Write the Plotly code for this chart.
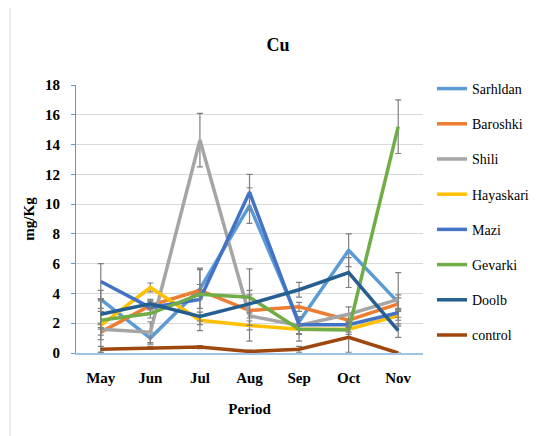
import plotly.graph_objects as go

months = ["May", "Jun", "Jul", "Aug", "Sep", "Oct", "Nov"]

sarhldan = [3.6, 1.0, 4.3, 9.9, 2.1, 6.9, 3.4]
baroshki = [1.4, 3.2, 4.2, 2.85, 3.1, 2.2, 3.3]
shili = [1.6, 1.4, 14.3, 2.5, 1.85, 2.6, 3.6]
hayaskari = [1.85, 4.4, 2.2, 1.85, 1.6, 1.6, 2.5]
mazi = [4.8, 3.05, 3.6, 10.8, 1.9, 1.9, 2.7]
gevarki = [2.2, 2.65, 3.95, 3.75, 1.6, 1.55, 15.2]
doolb = [2.6, 3.3, 2.45, 3.3, 4.25, 5.4, 1.5]
control = [0.25, 0.35, 0.4, 0.1, 0.25, 1.05, 0.0]

err_sarhldan = [0.6, 0.4, 1.3, 1.2, 0.3, 1.1, 0.5]
err_baroshki = [0.5, 0.3, 0.4, 0.5, 0.3, 0.4, 0.4]
err_shili = [0.4, 0.7, 1.8, 1.7, 0.6, 0.5, 1.8]
err_hayaskari = [1.8, 0.3, 0.3, 0.3, 0.8, 0.2, 0.3]
err_mazi = [1.2, 0.4, 2.1, 1.2, 0.3, 0.2, 0.3]
err_gevarki = [0.6, 0.3, 0.3, 1.9, 0.3, 0.3, 1.8]
err_doolb = [0.9, 0.3, 0.3, 0.6, 0.5, 1.0, 0.45]
err_control = [0.2, 0.1, 0.1, 0.1, 0.2, 1.0, 0.0]

series_names = ["Sarhldan", "Baroshki", "Shili", "Hayaskari", "Mazi", "Gevarki", "Doolb", "control"]
series_values = [sarhldan, baroshki, shili, hayaskari, mazi, gevarki, doolb, control]
series_errors = [err_sarhldan, err_baroshki, err_shili, err_hayaskari, err_mazi, err_gevarki, err_doolb, err_control]
colors = ["#5B9BD5", "#ED7D31", "#A5A5A5", "#FFC000", "#4472C4", "#70AD47", "#255E91", "#9E480E"]

font_family = "'Liberation Serif', 'DejaVu Serif', serif"

fig = go.Figure()
for name, vals, errs, col in zip(series_names, series_values, series_errors, colors):
    fig.add_trace(go.Scatter(
        x=months, y=vals, name=name, mode="lines",
        line=dict(color=col, width=3.5),
        error_y=dict(type="data", array=errs, visible=True, color="#7F7F7F", thickness=1.2, width=3),
        legendgroup=name,
    ))

# the page body adds an 8px offset, so the figure is 530x428
W, H = 530, 428
L, R, T, B = 68, 115, 77, 83.3
PW = W - L - R
PH = H - T - B
fig.update_layout(
    width=W, height=H,
    margin=dict(l=L, r=R, t=T, b=B, autoexpand=False),
    paper_bgcolor="white", plot_bgcolor="white",
    font=dict(family=font_family, color="black"),
    title=dict(text="<b>Cu</b>", x=270/W, xanchor="center", y=1-37/H, yanchor="middle",
               font=dict(size=18, family=font_family, color="black")),
    showlegend=True,
    legend=dict(x=(424-L)/PW, xanchor="left", y=1+(T-65)/PH, yanchor="top",
                font=dict(size=14, family=font_family, color="black"),
                tracegroupgap=14, bgcolor="rgba(0,0,0,0)", maxheight=420),
    xaxis=dict(
        type="category", range=[-0.5, 6.5], automargin=False,
        showline=True, linecolor="#9DC3E6", linewidth=1.5,
        showgrid=False, ticks="", zeroline=False,
        tickfont=dict(size=15, family=font_family, color="black"),
        tickprefix="<b>", ticksuffix="</b>",
        ticklabelstandoff=10,
        title=dict(text="<b>Period</b>", font=dict(size=15, family=font_family, color="black"), standoff=19),
    ),
    yaxis=dict(
        range=[0, 18], dtick=2, automargin=False,
        showline=True, linecolor="#5B9BD5", linewidth=1,
        ticks="outside", ticklen=4, tickcolor="#5B9BD5",
        showgrid=True, gridcolor="#D9D9D9", gridwidth=1,
        zeroline=False,
        tickfont=dict(size=15, family=font_family, color="black"),
        tickprefix="<b>", ticksuffix="</b>",
        ticklabelstandoff=8,
        title=dict(text="<b>mg/Kg</b>", font=dict(size=15, family=font_family, color="black"), standoff=6),
    ),
    shapes=[dict(type="line", xref="paper", yref="paper", x0=(2-L)/PW, x1=(2-L)/PW,
                 y0=-0.35, y1=1.35, line=dict(color="#D9D9D9", width=1))],
)

fig.write_html("out.html")
